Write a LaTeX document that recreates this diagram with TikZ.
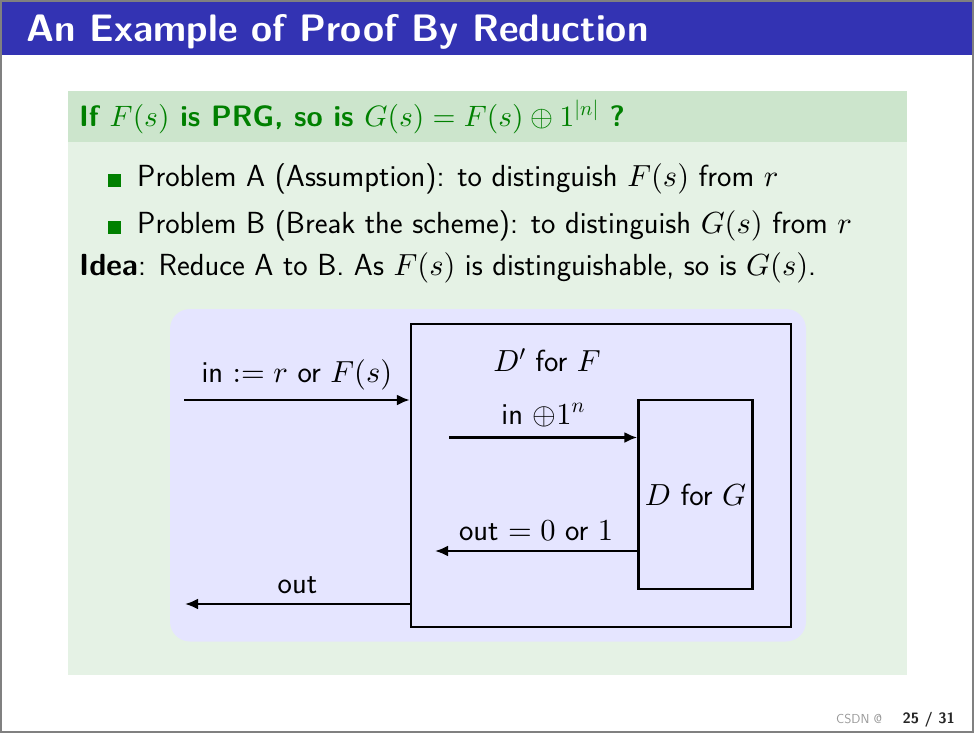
\documentclass[tikz,border=0pt]{standalone}
\usetikzlibrary{arrows.meta}
\DeclareFontShape{OT1}{cmr}{m}{n}{<-6>cmr5<6-9>cmr7<9->cmr10}{}
\DeclareFontShape{OML}{cmm}{m}{it}{<-6>cmmi5<6-9>cmmi7<9->cmmi10}{}
\DeclareFontShape{OMS}{cmsy}{m}{n}{<-6>cmsy5<6-9>cmsy7<9->cmsy10}{}
\DeclareFontShape{OMX}{cmex}{m}{n}{<->cmex10}{}
\definecolor{titleblue}{RGB}{51,51,179}
\definecolor{exgreen}{RGB}{0,128,0}
\definecolor{blktitle}{RGB}{204,229,204}
\definecolor{blkbody}{RGB}{229,242,229}
\definecolor{lav}{RGB}{229,229,255}
\newcommand\bodyfont{\sffamily\fontsize{30.5}{36}\selectfont}
\begin{document}
\begin{tikzpicture}[x=1pt,y=-1pt,
  txt/.style={anchor=base west, inner sep=0pt, font=\bodyfont},
  box/.style={draw=black, line width=2.4pt, inner sep=0pt},
  arr/.style={line width=2.3pt, -{Latex[length=13pt,width=11pt]}},
  lbl/.style={anchor=base, inner sep=0pt, font=\bodyfont}]
\useasboundingbox (0,0) rectangle (974,733);
\fill[white] (0,0) rectangle (974,733);
% title bar
\fill[titleblue] (2,2) rectangle (972,55.5);
\node[anchor=base west, inner sep=0pt, text=white,
  font=\sffamily\bfseries\fontsize{38.3}{46}\selectfont] (title) at (26,41.7) {An Example of Proof By Reduction};
% block
\fill[blktitle] (68,91) rectangle (907,142.5);
\fill[blkbody] (68,142.5) rectangle (907,675);
\node[txt, text=exgreen, font=\sffamily\bfseries\fontsize{29.5}{35}\selectfont] (btitle) at (79,126.7)
  {If $F(s)$ is PRG, so is $G(s)=F(s)\oplus 1^{|n|}$ ?};
\fill[exgreen] (108,174) rectangle (121,187);
\fill[exgreen] (108,220.5) rectangle (121,233.5);
\node[txt] (pa) at (137,186.7) {Problem A (Assumption): to distinguish $F(s)$ from $r$};
\node[txt] (pb) at (137,233.3) {Problem B (Break the scheme): to distinguish $G(s)$ from $r$};
\node[txt] (idea) at (79,275) {\textbf{Idea}: Reduce A to B. As $F(s)$ is distinguishable, so is $G(s)$.};
% diagram
\fill[lav, rounded corners=20pt] (170,309) rectangle (806,641.5);
\node[box, minimum width=380pt, minimum height=303pt] (outer) at (601,475.5) {};
\node[box, minimum width=114pt, minimum height=189pt, font=\bodyfont] (inner) at (695.5,494.5) {$D$ for $G$};
\node[lbl] (dpf) at (547,371.7) {$D'$ for $F$};
\coordinate (in1) at (184,400);
\draw[arr] (in1) -- node[lbl, midway, yshift=18pt] (l1) {in $:= r$ or $F(s)$} (in1 -| outer.west);
\coordinate (in2) at (449,437.5);
\draw[arr] (in2) -- node[lbl, midway, yshift=13.5pt] (l2) {in $\oplus 1^n$} (in2 -| inner.west);
\coordinate (out2) at (435,551);
\draw[arr] (out2 -| inner.west) -- node[lbl, midway, yshift=10.5pt] (l3) {out $=0$ or $1$} (out2);
\coordinate (out1) at (185,604);
\draw[arr] (out1 -| outer.west) -- node[lbl, midway, yshift=11pt] (l4) {out} (out1);
% footer
\node[anchor=base west, inner sep=0pt, text=black!40, font=\sffamily\fontsize{13}{15}\selectfont] (csdn) at (836,723) {CSDN @};
\node[anchor=base east, inner sep=0pt, text=black!85, font=\sffamily\bfseries\fontsize{15}{17}\selectfont] (pg) at (955,723) {25 / 31};
\draw[gray, line width=2pt] (1,1) rectangle (973,732);
\end{tikzpicture}
\end{document}
